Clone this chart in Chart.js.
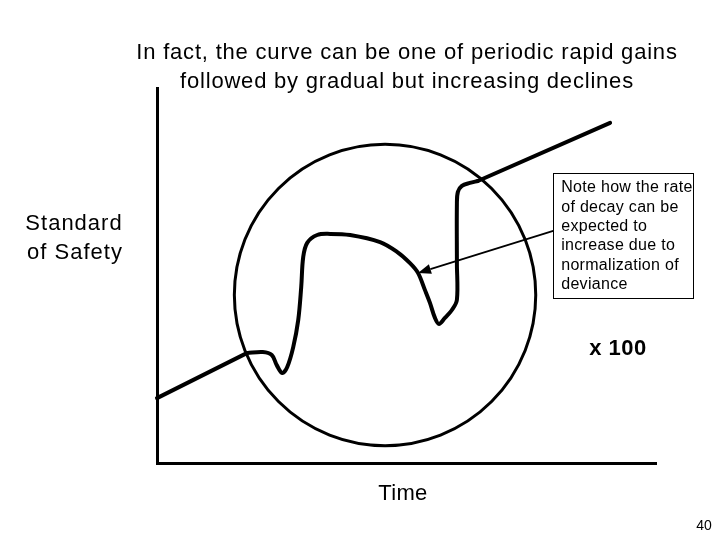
<!DOCTYPE html>
<html>
<head>
<meta charset="utf-8">
<script src="https://cdn.jsdelivr.net/npm/chart.js@4.4.1/dist/chart.umd.min.js"></script>
<style>
  html, body { margin: 0; padding: 0; background: #ffffff; }
  #wrap { width: 720px; height: 540px; position: relative; }
</style>
</head>
<body>
<div id="wrap"><canvas id="c" width="720" height="540"></canvas></div>
<script>
// ---- data (Time 0..100, Standard of Safety 0..100) ----
const startLineX = [0, 18.0];
const startLineY = [17.3, 29.3];

const curveX = [18.0, 21.2, 23.0, 24.0, 25.1, 26.1, 27.3, 28.3, 28.9, 29.3, 30.1, 32.1, 34.7, 38.7, 44.7, 48.1, 50.7, 52.3, 53.7, 54.7, 55.7, 56.5, 57.7, 59.1, 60.1, 60.1, 60.1, 60.3, 61.1, 62.7, 64.3];
const curveY = [29.3, 29.6, 28.8, 26.1, 24.0, 25.6, 30.9, 38.1, 46.9, 54.9, 58.7, 60.8, 61.1, 60.8, 58.9, 56.3, 53.3, 50.7, 46.1, 42.7, 38.7, 37.1, 38.7, 40.8, 43.5, 53.3, 69.3, 72.3, 73.9, 74.7, 75.2];

const endLineX = [64.3, 90.8];
const endLineY = [75.2, 90.7];

const circleCenter = [45.7, 44.8];   // data units
const circleRadiusX = 30.2;          // radius in Time units

const arrowTip = [52.3, 50.7];
const arrowTail = [79.4, 61.9];
const noteBoxX = [79.4, 107.4];
const noteBoxY = [77.3, 44.0];

const titleLines = ["In fact, the curve can be one of periodic rapid gains", "followed by gradual but increasing declines"];
const yLabelLines = ["Standard", "of Safety"];
const xLabel = "Time";
const noteLines = ["Note how the rate", "of decay can be", "expected to", "increase due to", "normalization of", "deviance"];
const scaleNote = "x 100";
const pageNumber = "40";

const toXY = (xs, ys) => xs.map((x, i) => ({ x: x, y: ys[i] }));

const textPlugin = {
  id: 'slideText',
  afterDraw(chart) {
    const ctx = chart.ctx;
    const sx = chart.scales.x, sy = chart.scales.y;
    ctx.save();
    ctx.fillStyle = '#000';
    // title
    ctx.font = '22px Arial, "Liberation Sans", sans-serif';
    ctx.textAlign = 'center';
    ctx.textBaseline = 'alphabetic';
    ctx.letterSpacing = '0.8px';
    ctx.fillText(titleLines[0], 407, 59);
    ctx.fillText(titleLines[1], 407, 88);
    // y label
    ctx.letterSpacing = '1px';
    ctx.fillText(yLabelLines[0], 74, 230);
    ctx.fillText(yLabelLines[1], 75, 259);
    // x label
    ctx.letterSpacing = '0.3px';
    ctx.fillText(xLabel, 403, 500);
    // x 100
    ctx.font = 'bold 22px Arial, "Liberation Sans", sans-serif';
    ctx.letterSpacing = '0.5px';
    ctx.fillText(scaleNote, 618, 355);
    // page number
    ctx.font = '14px Arial, "Liberation Sans", sans-serif';
    ctx.letterSpacing = '0px';
    ctx.fillText(pageNumber, 704, 530);

    // note box
    const bx0 = sx.getPixelForValue(noteBoxX[0]);
    const bx1 = sx.getPixelForValue(noteBoxX[1]);
    const by0 = sy.getPixelForValue(noteBoxY[0]);
    const by1 = sy.getPixelForValue(noteBoxY[1]);
    ctx.fillStyle = '#fff';
    ctx.fillRect(bx0, by0, bx1 - bx0, by1 - by0);
    ctx.strokeStyle = '#000';
    ctx.lineWidth = 1;
    ctx.strokeRect(Math.round(bx0) + 0.5, Math.round(by0) + 0.5, Math.round(bx1 - bx0), Math.round(by1 - by0));
    ctx.fillStyle = '#000';
    ctx.font = '16px Arial, "Liberation Sans", sans-serif';
    ctx.textAlign = 'left';
    ctx.letterSpacing = '0.3px';
    noteLines.forEach((t, i) => ctx.fillText(t, bx0 + 8, by0 + 19 + i * 19.4));

    // arrow
    const tx = sx.getPixelForValue(arrowTip[0]), ty = sy.getPixelForValue(arrowTip[1]);
    const fx = sx.getPixelForValue(arrowTail[0]), fy = sy.getPixelForValue(arrowTail[1]);
    const ang = Math.atan2(ty - fy, tx - fx);
    const headL = 13, headW = 5;
    const hx = tx - headL * Math.cos(ang), hy = ty - headL * Math.sin(ang);
    ctx.lineWidth = 1.8;
    ctx.beginPath();
    ctx.moveTo(fx, fy);
    ctx.lineTo(hx, hy);
    ctx.stroke();
    ctx.beginPath();
    ctx.moveTo(tx, ty);
    ctx.lineTo(hx + headW * Math.sin(ang), hy - headW * Math.cos(ang));
    ctx.lineTo(hx - headW * Math.sin(ang), hy + headW * Math.cos(ang));
    ctx.closePath();
    ctx.fill();
    ctx.restore();
  }
};

const lineStyle = {
  borderColor: '#000',
  borderWidth: 4,
  pointRadius: 0,
  borderCapStyle: 'round',
  borderJoinStyle: 'round',
  fill: false,
  clip: false
};

new Chart(document.getElementById('c'), {
  type: 'line',
  data: {
    datasets: [
      Object.assign({ data: toXY(startLineX, startLineY), tension: 0 }, lineStyle),
      Object.assign({ data: toXY(curveX, curveY), tension: 0.35 }, lineStyle),
      Object.assign({ data: toXY(endLineX, endLineY), tension: 0 }, lineStyle),
      {
        data: [{ x: circleCenter[0], y: circleCenter[1] }],
        showLine: false,
        pointStyle: 'circle',
        backgroundColor: 'rgba(0,0,0,0)',
        borderColor: '#000',
        pointBorderWidth: 3,
        pointRadius: (c) => {
          const s = c.chart.scales.x;
          return s ? s.getPixelForValue(circleRadiusX) - s.getPixelForValue(0) : 150;
        },
        clip: false
      }
    ]
  },
  options: {
    responsive: false,
    animation: false,
    events: [],
    layout: { padding: { left: 157, top: 88, right: 64, bottom: 77 } },
    plugins: { legend: { display: false }, tooltip: { enabled: false }, title: { display: false } },
    scales: {
      x: {
        type: 'linear', min: 0, max: 100,
        ticks: { display: false },
        grid: { display: false, drawTicks: false },
        border: { display: true, color: '#000', width: 3 },
        afterFit(s) { s.height = 0; }
      },
      y: {
        type: 'linear', min: 0, max: 100,
        ticks: { display: false },
        grid: { display: false, drawTicks: false },
        border: { display: true, color: '#000', width: 3 },
        afterFit(s) { s.width = 0; }
      }
    }
  },
  plugins: [textPlugin]
});
</script>
</body>
</html>
